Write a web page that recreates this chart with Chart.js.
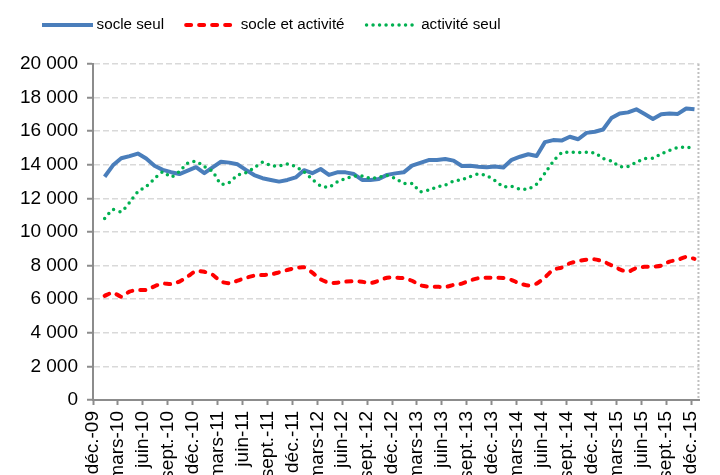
<!DOCTYPE html>
<html lang="fr">
<head>
<meta charset="utf-8">
<script src="https://cdn.jsdelivr.net/npm/chart.js@4.4.1/dist/chart.umd.min.js"></script>
<style>
  html, body { margin: 0; padding: 0; background: #fff; overflow: hidden; }
</style>
</head>
<body>
<canvas id="chart" width="720" height="475"></canvas>
<script>
// Monthly series, janv.-10 -> déc.-15 (72 months), axis ticks every quarter from déc.-09
const tickLabels = [
  "déc.-09", "mars-10", "juin-10", "sept.-10",
  "déc.-10", "mars-11", "juin-11", "sept.-11",
  "déc.-11", "mars-12", "juin-12", "sept.-12",
  "déc.-12", "mars-13", "juin-13", "sept.-13",
  "déc.-13", "mars-14", "juin-14", "sept.-14",
  "déc.-14", "mars-15", "juin-15", "sept.-15",
  "déc.-15",
]

const socleSeul = [
  13290, 13970, 14390, 14520, 14670, 14370, 13940, 13700, 13560, 13450,
  13650, 13860, 13500, 13850, 14180, 14130, 14030, 13700, 13390, 13200,
  13100, 13000, 13100, 13250, 13680, 13500, 13750, 13400, 13550, 13550,
  13450, 13100, 13100, 13150, 13400, 13490, 13550, 13950, 14120, 14280,
  14290, 14350, 14250, 13930, 13950, 13890, 13850, 13900, 13840, 14300,
  14480, 14630, 14520, 15350, 15470, 15440, 15670, 15520, 15900, 15970,
  16100, 16780, 17050, 17120, 17300, 17020, 16730, 17010, 17060, 17030,
  17350, 17300,
]

const socleEtActivite = [
  6200, 6400, 6150, 6450, 6550, 6550, 6770, 6930, 6900, 7050,
  7350, 7680, 7630, 7460, 7050, 6950, 7100, 7270, 7400, 7440,
  7470, 7600, 7740, 7850, 7900, 7580, 7180, 6980, 6980, 7050,
  7070, 7040, 6960, 7100, 7280, 7280, 7250, 7100, 6830, 6750,
  6740, 6730, 6850, 6930, 7120, 7250, 7280, 7280, 7260, 7140,
  6930, 6820, 6930, 7300, 7760, 7880, 8140, 8270, 8350, 8370,
  8250, 8020, 7780, 7630, 7860, 7930, 7930, 8000, 8240, 8340,
  8520, 8400,
]

const activiteSeul = [
  10800, 11330, 11200, 11750, 12400, 12700, 13170, 13580, 13280, 13600,
  14100, 14200, 13900, 13600, 12850, 12950, 13380, 13530, 13820, 14150,
  13950, 13930, 14050, 13880, 13580, 13130, 12750, 12660, 12980, 13180,
  13320, 13330, 13200, 13250, 13360, 13180, 12900, 12880, 12400, 12500,
  12680, 12790, 13030, 13120, 13300, 13450, 13350, 13050, 12700, 12720,
  12550, 12560, 12850, 13500, 14200, 14700, 14760, 14730, 14740, 14700,
  14380, 14220, 13900, 13900, 14150, 14370, 14400, 14650, 14850, 15030,
  15050, 15000,
]

// x = months since déc.-09; the points sit a bit after the month mark, like in the original
const toPoints = (values) => values.map((y, i) => ({ x: i + 1.4, y }))

const frNumber = (v) => String(v).replace(/\B(?=(\d{3})+(?!\d))/g, " ")

const LEGEND_LINE = 51

// dotted right edge of the plot area
const plotBorder = {
  id: "plotBorder",
  beforeDatasetsDraw(chart) {
    const { ctx, chartArea: a } = chart
    ctx.save()
    ctx.strokeStyle = "#c0c0c0"
    ctx.lineWidth = 2
    ctx.setLineDash([2, 2])
    ctx.beginPath()
    ctx.moveTo(a.right - 1, a.top)
    ctx.lineTo(a.right - 1, a.bottom)
    ctx.stroke()
    ctx.restore()
  },
}

// legend: more room below it, items starting further right,
// and line samples drawn with the dataset's own dash pattern
const legendTweaks = {
  id: "legendTweaks",
  beforeInit(chart) {
    const fit = chart.legend.fit
    chart.legend.fit = function () {
      fit.call(this)
      this.height += 21.3
    }
  },
  afterLayout(chart) {
    chart.legend.left = 20
  },
  afterDraw(chart) {
    const { ctx, legend } = chart
    legend.legendItems.forEach((item, i) => {
      const ds = chart.data.datasets[item.datasetIndex]
      const box = legend.legendHitBoxes[i]
      const y = box.top + box.height / 2
      ctx.save()
      ctx.strokeStyle = ds.borderColor
      ctx.lineWidth = ds.borderWidth
      ctx.lineCap = ds.borderCapStyle || "butt"
      ctx.setLineDash(ds.borderDash || [])
      ctx.beginPath()
      ctx.moveTo(box.left, y)
      ctx.lineTo(box.left + LEGEND_LINE, y)
      ctx.stroke()
      ctx.restore()
    })
  },
}

Chart.defaults.font.family = '"Liberation Sans", Arial, sans-serif'
Chart.defaults.font.size = 19
Chart.defaults.color = "#000"

const baseLabels = Chart.defaults.plugins.legend.labels.generateLabels

new Chart(document.getElementById("chart"), {
  type: "line",
  data: {
    datasets: [
      {
        label: "socle seul",
        data: toPoints(socleSeul),
        borderColor: "#4a7ebb",
        borderWidth: 4,
        borderJoinStyle: "round",
        pointRadius: 0,
        tension: 0,
        order: 3,
      },
      {
        label: "socle et activité",
        data: toPoints(socleEtActivite),
        borderColor: "#ff0000",
        borderWidth: 4,
        borderDash: [5, 8],
        borderCapStyle: "round",
        pointRadius: 0,
        tension: 0.2,
        order: 2,
      },
      {
        label: "activité seul",
        data: toPoints(activiteSeul),
        borderColor: "#00b050",
        borderWidth: 3.5,
        borderDash: [0, 6.5],
        borderCapStyle: "round",
        pointRadius: 0,
        tension: 0.2,
        order: 1,
      },
    ],
  },
  options: {
    responsive: false,
    animation: false,
    layout: { padding: { top: -4.5, left: 0, right: 4, bottom: 0 } },
    plugins: {
      tooltip: { enabled: false },
      legend: {
        position: "top",
        align: "start",
        labels: {
          usePointStyle: true,
          pointStyle: "line",
          pointStyleWidth: 47,
          padding: 22,
          font: { size: 15.2 },
          color: "#000",
          sort: (a, b) => a.datasetIndex - b.datasetIndex,
          generateLabels: (chart) =>
            baseLabels(chart).map((l) => ({ ...l, strokeStyle: "rgba(0,0,0,0)" })),
        },
      },
    },
    scales: {
      x: {
        type: "linear",
        min: 0,
        max: 73,
        afterFit: (scale) => { scale.height = 75 },
        border: { color: "#8c8c8c", width: 2 },
        grid: {
          drawOnChartArea: false,
          tickLength: 5,
          tickColor: "#8c8c8c",
          tickWidth: 2,
        },
        ticks: {
          stepSize: 3,
          includeBounds: false,
          autoSkip: false,
          maxRotation: 90,
          minRotation: 90,
          padding: 6,
          color: "#000",
          callback: (v) => tickLabels[v / 3],
        },
      },
      y: {
        min: 0,
        max: 20000,
        afterFit: (scale) => { scale.width = 93 },
        border: { color: "#8c8c8c", width: 2, dash: [6, 3] },
        grid: {
          color: "#d9d9d9",
          lineWidth: 1.5,
          tickLength: 6,
          tickColor: "#8c8c8c",
          tickWidth: 2,
          tickBorderDash: [],
        },
        ticks: {
          stepSize: 2000,
          padding: 9,
          color: "#000",
          callback: (v) => frNumber(v),
        },
      },
    },
  },
  plugins: [plotBorder, legendTweaks],
})
</script>
</body>
</html>
